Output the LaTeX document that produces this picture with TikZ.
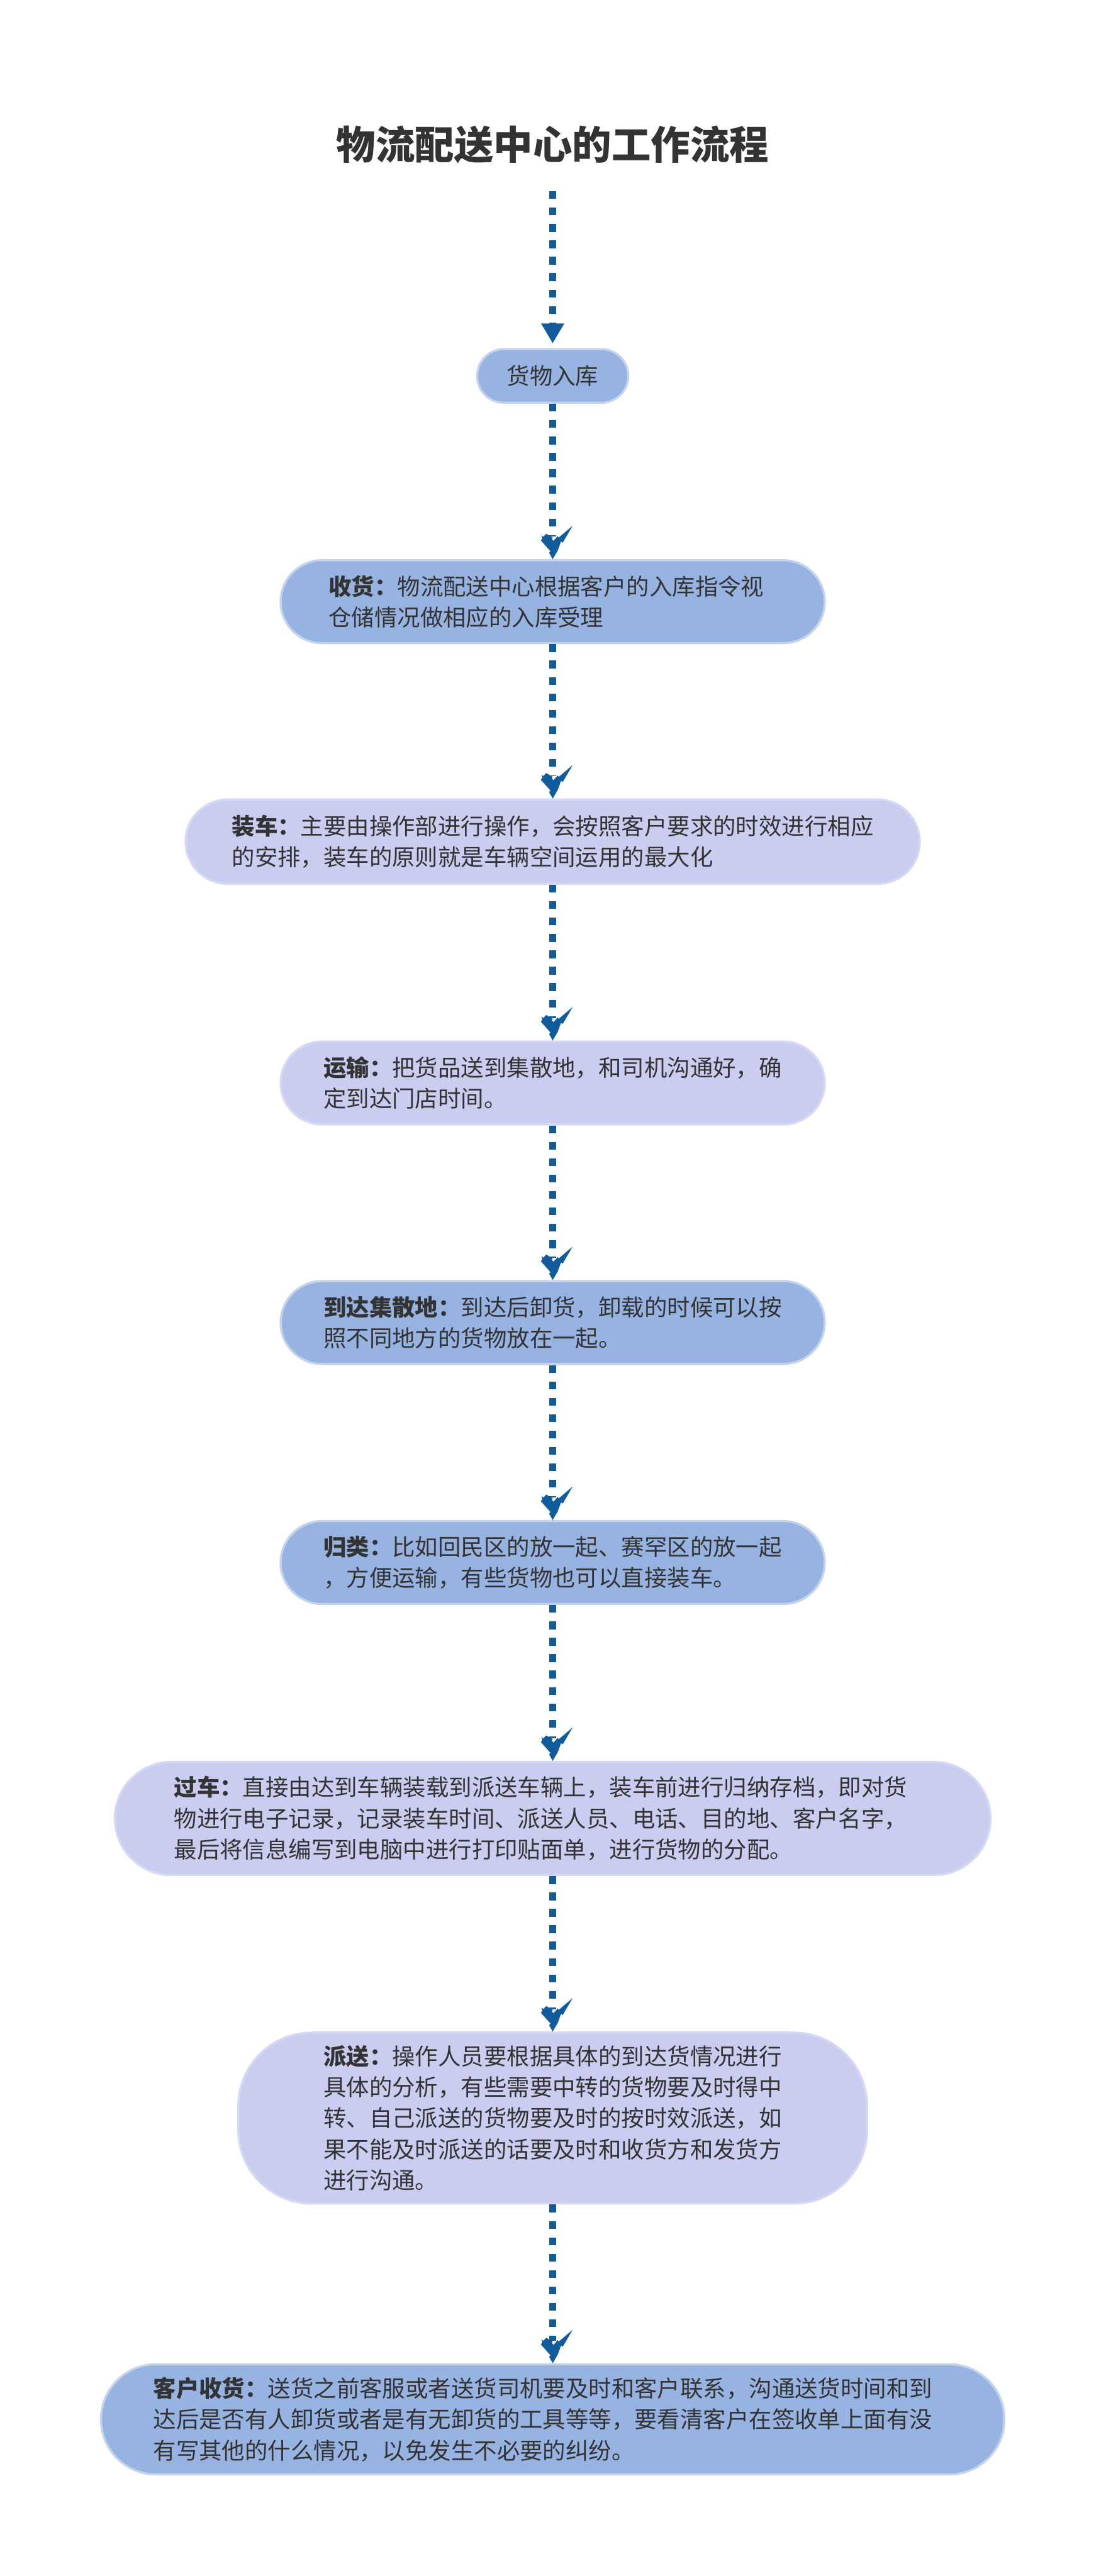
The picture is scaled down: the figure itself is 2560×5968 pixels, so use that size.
\documentclass[tikz,border=0pt]{standalone}
\usepackage{fontspec}
\setmainfont{Noto Sans CJK SC}
\usetikzlibrary{arrows.meta}
\definecolor{boxblue}{HTML}{97B3E2}
\definecolor{boxblueline}{HTML}{C3D3EE}
\definecolor{boxlav}{HTML}{CACDF0}
\definecolor{boxlavline}{HTML}{D6D9F4}
\definecolor{txt}{HTML}{333333}
\definecolor{arrowc}{HTML}{0F5B9C}
\newcommand\jagtip[1]{\fill[arrowc, shift={(#1.north)}] (0,0) -- (-8.3,-15) -- (-5,-18.3) -- (-18.3,-33.3) -- (-27.3,-43.3) -- (-24,-48.3) -- (-26,-55.7) -- (-21.7,-51.7) -- (-15,-59) -- (0,-50) -- (-2.3,-47.3) -- (1.7,-42.3) -- (11.7,-53.3) -- (14,-50) -- (46,-77.3) -- (23.3,-38.3) -- (19.3,-41) -- (11.7,-20) -- cycle;}
\begin{document}
\begin{tikzpicture}[x=0.1mm,y=-0.1mm,
  base/.style={draw, line width=0.5mm, text=txt, align=left, inner sep=0pt,
    font=\fontsize{15.1pt}{20.5pt}\selectfont},
  bluebox/.style={base, fill=boxblue, draw=boxblueline},
  lavbox/.style={base, fill=boxlav, draw=boxlavline},
  flow/.style={draw=arrowc, line width=1.5mm, dash pattern=on 1.8mm off 2mm},
  ]
\fill[white] (0,0) rectangle (2560,5968);
\useasboundingbox (0,0) rectangle (2560,5968);

\node[text=txt, font=\bfseries\fontsize{25.9pt}{30pt}\selectfont] (title) at (1280,335) {物流配送中心的工作流程};
\coordinate (s0) at (1280,443);

\node[bluebox, minimum width=35mm, minimum height=12.4mm, rounded corners=6.2mm] (n1) at (1280,871) {货物入库};
\node[bluebox, text width=103.8mm, minimum width=126mm, minimum height=19.2mm, rounded corners=9.6mm] (n2) at (1280,1394)
  {\textbf{收货：}物流配送中心根据客户的入库指令视\\仓储情况做相应的入库受理};
\node[lavbox, minimum width=170mm, minimum height=19.5mm, rounded corners=9.7mm] (n3) at (1280,1950)
  {\textbf{装车：}主要由操作部进行操作，会按照客户要求的时效进行相应\\的安排，装车的原则就是车辆空间运用的最大化};
\node[lavbox, minimum width=126mm, minimum height=19.2mm, rounded corners=9.6mm] (n4) at (1280,2509)
  {\textbf{运输：}把货品送到集散地，和司机沟通好，确\\定到达门店时间。};
\node[bluebox, minimum width=126mm, minimum height=19.2mm, rounded corners=9.6mm] (n5) at (1280,3064)
  {\textbf{到达集散地：}到达后卸货，卸载的时候可以按\\照不同地方的货物放在一起。};
\node[bluebox, minimum width=126mm, minimum height=19.2mm, rounded corners=9.6mm] (n6) at (1280,3620)
  {\textbf{归类：}比如回民区的放一起、赛罕区的放一起\\，方便运输，有些货物也可以直接装车。};
\node[lavbox, text width=175.4mm, minimum width=202.8mm, minimum height=26.2mm, rounded corners=13.1mm] (n7) at (1280,4213)
  {\textbf{过车：}直接由达到车辆装载到派送车辆上，装车前进行归纳存档，即对货\\物进行电子记录，记录装车时间、派送人员、电话、目的地、客户名字，\\最后将信息编写到电脑中进行打印贴面单，进行货物的分配。};
\node[lavbox, minimum width=145.6mm, minimum height=39.6mm, rounded corners=17mm] (n8) at (1280,4907)
  {\textbf{派送：}操作人员要根据具体的到达货情况进行\\具体的分析，有些需要中转的货物要及时得中\\转、自己派送的货物要及时的按时效派送，如\\果不能及时派送的话要及时和收货方和发货方\\进行沟通。};
\node[bluebox, text width=185mm, minimum width=209.2mm, minimum height=25.5mm, rounded corners=12.7mm] (n9) at (1280,5605)
  {\textbf{客户收货：}送货之前客服或者送货司机要及时和客户联系，沟通送货时间和到\\达后是否有人卸货或者是有无卸货的工具等等，要看清客户在签收单上面有没\\有写其他的什么情况，以免发生不必要的纠纷。};

\draw[flow, -{Triangle[width=5mm,length=4.6mm]}, shorten >=1.1mm] (s0) -- (n1);
\foreach \a/\b in {n1/n2,n2/n3,n3/n4,n4/n5,n5/n6,n6/n7,n7/n8,n8/n9}{
  \draw[flow, shorten >=5.2mm] (\a) -- (\b);
  \jagtip{\b}
}
\end{tikzpicture}
\end{document}
